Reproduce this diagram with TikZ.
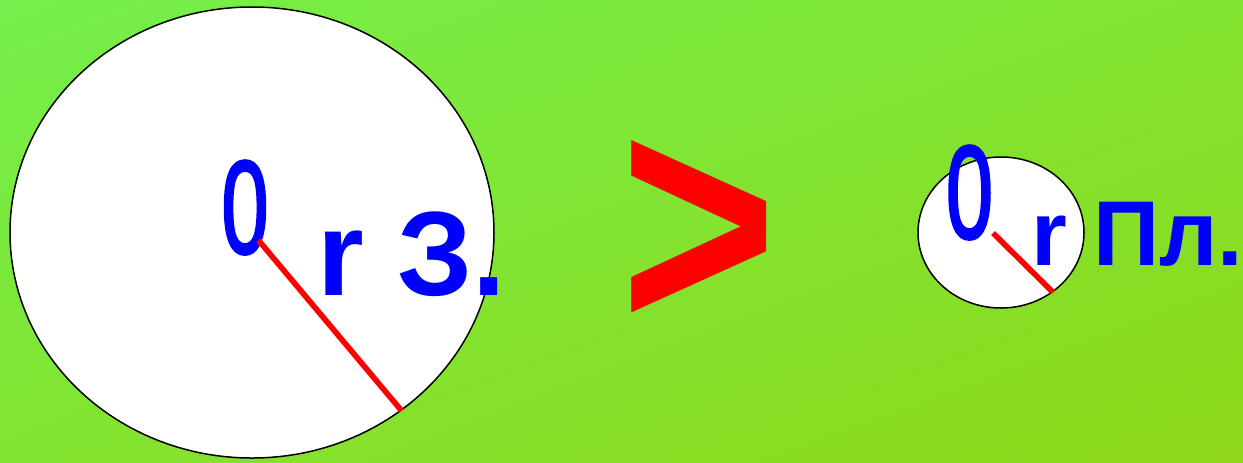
\documentclass[tikz,border=0pt]{standalone}
\usepackage{fontspec}
\setmainfont{Liberation Sans}
\newfontfamily\zerofont[FakeBold=2.5]{Liberation Sans}
\usetikzlibrary{shapes.geometric,shadings}

\definecolor{bgTL}{RGB}{117,239,76}
\definecolor{bgMid}{RGB}{130,228,48}
\definecolor{bgBR}{RGB}{142,216,24}

\tikzset{every picture/.style={line width=0.75pt}}

\begin{document}
\begin{tikzpicture}[x=0.5pt, y=-0.5pt,
    planet/.style={ellipse, draw=black, fill=white, inner sep=0pt},
    radius/.style={color=red, line width=2.8pt},
    zero/.style={text=blue, font=\zerofont\fontsize{66}{70}\selectfont, xscale=0.64, inner sep=0pt, anchor=base}]
        \shade[upper left=bgTL, lower right=bgBR, upper right=bgMid, lower left=bgMid] (0,0) rectangle (1243,462);
        \useasboundingbox (0,0) rectangle (1243,462);
        % earth
        \node[planet, minimum width=242pt, minimum height=225.5pt] (earth) at (252,232.5) {};
        \node[zero] (earthO) at (245,253) {0};
        \draw[radius, shorten <=5pt] (earth.center) -- (earth.-50);
        \node[text=blue, font=\bfseries\fontsize{60}{64}\selectfont, inner sep=0pt, anchor=base west] (earthR) at (317,295) {r З.};
        % sign
        \node[text=red, font=\bfseries\fontsize{160}{170}\selectfont, xscale=0.84, inner sep=0pt] (gt) at (698.5,236) {>};
        % planet
        \node[planet, minimum width=83pt, minimum height=75.5pt] (pl) at (1001,232.5) {};
        \node[zero] (plO) at (969.5,238) {0};
        \coordinate (plC) at (993,233);
        \draw[radius] (plC) -- (pl.-49);
        \node[text=blue, font=\bfseries\fontsize{46}{50}\selectfont, inner sep=0pt, anchor=base west] (plR) at (1031,265) {r Пл.};
    \end{tikzpicture}
\end{document}
